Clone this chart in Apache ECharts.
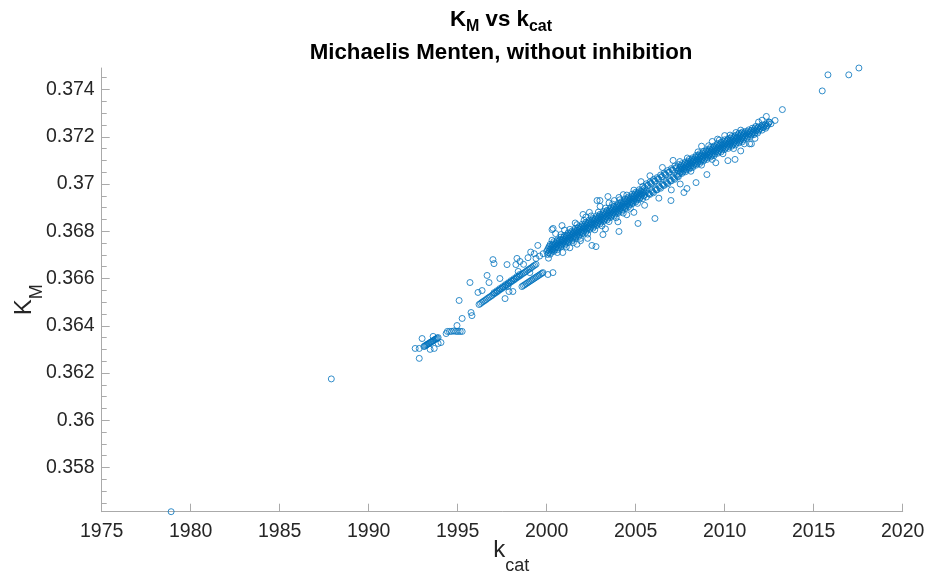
<!DOCTYPE html>
<html>
<head>
<meta charset="utf-8">
<script src="https://cdn.jsdelivr.net/npm/echarts@6/dist/echarts.min.js"></script>
<style>
html,body{margin:0;padding:0;background:#fff;}
#chart{width:927px;height:579px;}
</style>
</head>
<body>
<div id="chart"></div>
<script>
// ---- tick labels ----
const xTicks = [1975, 1980, 1985, 1990, 1995, 2000, 2005, 2010, 2015, 2020];
const yTicks = [0.358, 0.36, 0.362, 0.364, 0.366, 0.368, 0.37, 0.372, 0.374];
const yMinorTicks = [0.3565, 0.357, 0.3575, 0.3585, 0.359, 0.3595, 0.3605, 0.361, 0.3615,
  0.3625, 0.363, 0.3635, 0.3645, 0.365, 0.3655, 0.3665, 0.367, 0.3675, 0.3685, 0.369, 0.3695,
  0.3705, 0.371, 0.3715, 0.3725, 0.373, 0.3735, 0.3745];

// ---- data: [kcat, KM] ----
const outliers = [[1978.9,0.35613],[1987.9,0.36175],[2015.48,0.37394],[2015.80,0.37462],
  [2016.97,0.37462],[2017.54,0.37491],[2013.24,0.37315],[2012.34,0.37286],[2012.83,0.37269]];

const cluster1993 = [[1993.10,0.36312],[1993.15,0.36314],[1993.20,0.36317],[1993.25,0.36319],
  [1993.30,0.36322],[1993.35,0.36324],[1993.40,0.36326],[1993.45,0.36329],[1993.50,0.36331],
  [1993.55,0.36333],[1993.60,0.36336],[1993.65,0.36338],[1993.70,0.36341],[1993.75,0.36343],
  [1993.80,0.36345],[1993.85,0.36348],[1993.90,0.3635],
  [1992.61,0.36304],[1992.84,0.36304],[1992.84,0.36262],[1993.0,0.36346],[1993.45,0.363],
  [1993.68,0.36304],[1993.62,0.36355],[1993.9,0.36325],[1994.06,0.36329]];

const row1995 = [[1994.35,0.36367],[1994.42,0.36376],[1994.54,0.36376],[1994.66,0.36376],
  [1994.78,0.36378],[1994.9,0.36376],[1995.02,0.36376],[1995.14,0.36376],[1995.25,0.36376],
  [1994.96,0.36401]];

const scatter1995 = [[1995.69,0.36583],[1996.14,0.36541],[1996.37,0.36549],[1996.65,0.36613],
  [1996.76,0.36583],[1996.98,0.3668],[1997.04,0.36663],[1997.37,0.366],[1997.66,0.36515],
  [1997.77,0.36659],[1997.82,0.36566],[1997.88,0.36545],[1998.1,0.36545],[1998.33,0.36685],
  [1998.27,0.36659],[1998.5,0.36672],[2000.07,0.36617],[2000.35,0.36625],[1995.08,0.36507],
  [1995.25,0.36431],[1995.75,0.36456],[1995.8,0.36443],[1998.7,0.3666],[1998.95,0.36688],
  [1999.1,0.36712],[1999.3,0.36705],[1999.5,0.3674],[1999.05,0.36625],[1998.4,0.3663]];

const bandA = [[1996.20,0.3649],[1996.28,0.36494],[1996.36,0.36499],[1996.44,0.36503],
  [1996.52,0.36507],[1996.60,0.36511],[1996.68,0.36516],[1996.76,0.3652],[1996.84,0.36524],
  [1996.92,0.36528],[1997.00,0.36533],[1997.08,0.36537],[1997.16,0.36541],[1997.24,0.36545],
  [1997.32,0.3655],[1997.40,0.36554],[1997.48,0.36558],[1997.56,0.36562],[1997.64,0.36567],
  [1997.72,0.36571],[1997.80,0.36575],[1997.88,0.36579],[1997.96,0.36584],[1998.04,0.36588],
  [1998.12,0.36592],[1998.20,0.36596],[1998.28,0.36601],[1998.36,0.36605],[1998.44,0.36609],
  [1998.52,0.36613],[1998.60,0.36618],[1998.68,0.36622],[1998.76,0.36626],[1998.84,0.3663],
  [1998.92,0.36635],[1999.00,0.36639],[1999.08,0.36643],[1999.16,0.36647],[1999.24,0.36652],
  [1999.32,0.36656],[1999.40,0.3666],
  [1997.04,0.3654],[1997.2,0.36548],[1997.36,0.36557],[1997.52,0.36565],[1997.68,0.36574],
  [1997.84,0.36582],[1998.0,0.36591],[1998.16,0.36599],[1998.32,0.36608],[1998.48,0.36617]];

const bandB = [[1998.61,0.36566],[1998.69,0.3657],[1998.77,0.36574],[1998.85,0.36578],
  [1998.93,0.36582],[1999.01,0.36586],[1999.09,0.3659],[1999.17,0.36594],[1999.25,0.36598],
  [1999.33,0.36602],[1999.41,0.36606],[1999.49,0.3661],[1999.57,0.36614],[1999.65,0.36618],
  [1999.73,0.36622],[1999.79,0.36625]];

const cloudCenter = [[1999.4,0.36685],[1999.6,0.36695],[1999.8,0.36705],
  [2000.0,0.36715],[2000.2,0.36724],[2000.4,0.36734],[2000.6,0.36743],[2000.8,0.36753],
  [2001.0,0.36762],[2001.2,0.36771],[2001.4,0.3678],[2001.6,0.3679],[2001.8,0.36799],
  [2002.0,0.36808],[2002.2,0.36817],[2002.4,0.36826],[2002.6,0.36834],[2002.8,0.36843],
  [2003.0,0.36852],[2003.2,0.36861],[2003.4,0.36869],[2003.6,0.36878],[2003.8,0.36886],
  [2004.0,0.36895],[2004.2,0.36905],[2004.4,0.36915],[2004.6,0.36925],[2004.8,0.36935],
  [2005.0,0.36945],[2005.2,0.36954],[2005.4,0.36963],[2005.6,0.36972],
  [2007.4,0.37056],[2007.6,0.37064],[2007.8,0.37073],[2008.0,0.37082],[2008.2,0.37091],
  [2008.4,0.37099],[2008.6,0.37108],[2008.8,0.37116],[2009.0,0.37125],[2009.2,0.37133],
  [2009.4,0.37141],[2009.6,0.37149],[2009.8,0.37157],[2010.0,0.37165],[2010.2,0.37172],
  [2010.4,0.37179],[2010.6,0.37186],[2010.8,0.37193],[2011.0,0.372],[2011.2,0.37207],
  [2011.4,0.37214],[2011.6,0.37222],[2011.8,0.37229],[2012.0,0.37236],[2012.2,0.37242],
  [2012.4,0.37248],[2012.6,0.37255]];

const cloudUpperA = [[2000.05,0.36722],[2000.25,0.36731],[2000.45,0.36741],[2000.65,0.3675],
  [2000.85,0.3676],[2001.05,0.36769],[2001.25,0.36778],[2001.45,0.36787],[2001.65,0.36797],
  [2001.85,0.36806],[2002.05,0.36815],[2002.25,0.36824],[2002.45,0.36833],[2002.65,0.36841],
  [2002.85,0.3685],[2003.05,0.36859],[2003.25,0.36868],[2003.45,0.36876],[2003.65,0.36885],
  [2003.85,0.36893],[2004.05,0.36902],[2004.25,0.36912],[2004.45,0.36922],[2004.65,0.36932],
  [2004.85,0.36942],[2005.05,0.36952],[2005.25,0.36961],[2005.45,0.3697],[2005.65,0.36994],
  [2005.85,0.37003],[2006.05,0.37012],[2006.25,0.37022],[2006.45,0.37031],[2006.65,0.37041],
  [2006.85,0.3705],[2007.05,0.3706],[2007.25,0.37069],[2007.45,0.37063],[2007.65,0.37071],
  [2007.85,0.3708],[2008.05,0.37089],[2008.25,0.37098],[2008.45,0.37106],[2008.65,0.37115],
  [2008.85,0.37123],[2009.05,0.37132],[2009.25,0.3714],[2009.45,0.37148],[2009.65,0.37156],
  [2009.85,0.37164],[2010.05,0.37172],[2010.25,0.37179],[2010.45,0.37186],[2010.65,0.37193],
  [2010.85,0.372],[2011.05,0.37207],[2011.25,0.37214],[2011.45,0.37221],[2011.65,0.37229],
  [2011.85,0.37236],[2012.05,0.37243],[2012.25,0.37249],[2012.45,0.37255]];

const cloudLowerA = [[2000.15,0.36717],[2000.35,0.36726],[2000.55,0.36736],[2000.75,0.36745],
  [2000.95,0.36755],[2001.15,0.36764],[2001.35,0.36773],[2001.55,0.36782],[2001.75,0.36792],
  [2001.95,0.36801],[2002.15,0.3681],[2002.35,0.36819],[2002.55,0.36828],[2002.75,0.36836],
  [2002.95,0.36845],[2003.15,0.36854],[2003.35,0.36863],[2003.55,0.36871],[2003.75,0.3688],
  [2003.95,0.36888],[2004.15,0.36897],[2004.35,0.36907],[2004.55,0.36917],[2004.75,0.36927],
  [2004.95,0.36937],[2005.15,0.36947],[2005.35,0.36956],[2005.55,0.36965],[2005.75,0.36958],
  [2005.95,0.36967],[2006.15,0.36976],[2006.35,0.36986],[2006.55,0.36995],[2006.75,0.37005],
  [2006.95,0.37014],[2007.15,0.37024],[2007.35,0.37033],[2007.55,0.37058],[2007.75,0.37066],
  [2007.95,0.37075],[2008.15,0.37084],[2008.35,0.37093],[2008.55,0.37101],[2008.75,0.3711],
  [2008.95,0.37118],[2009.15,0.37127],[2009.35,0.37135],[2009.55,0.37143],[2009.75,0.37151],
  [2009.95,0.37159],[2010.15,0.37167],[2010.35,0.37174],[2010.55,0.37181],[2010.75,0.37188],
  [2010.95,0.37195],[2011.15,0.37202],[2011.35,0.37209],[2011.55,0.37216],[2011.75,0.37224],
  [2011.95,0.37231],[2012.15,0.37238],[2012.35,0.37244]];

const cloudUpper1 = [[2000.1,0.3673],[2000.3,0.36741],[2000.5,0.36748],[2000.7,0.36759],
  [2000.9,0.36767],[2001.1,0.36778],[2001.3,0.36785],[2001.5,0.36796],[2001.7,0.36804],
  [2001.9,0.36815],[2002.1,0.36822],[2002.3,0.36833],[2002.5,0.36839],[2002.7,0.3685],
  [2002.9,0.36857],[2003.1,0.36868],[2003.3,0.36874],[2003.5,0.36885],[2003.7,0.36891],
  [2003.9,0.36902],[2004.1,0.36909],[2004.3,0.36921],[2004.5,0.36929],[2004.7,0.36941],
  [2004.9,0.36949],[2005.1,0.36961],[2005.3,0.36968],[2005.5,0.36984],[2005.7,0.36994],
  [2005.9,0.37002],[2006.1,0.37012],[2006.3,0.3702],[2006.5,0.37031],[2006.7,0.37039],
  [2006.9,0.3705],[2007.1,0.37058],[2007.3,0.37068],[2007.5,0.37071],[2007.7,0.3708],
  [2007.9,0.37087],[2008.1,0.37098],[2008.3,0.37104],[2008.5,0.37115],[2008.7,0.37121],
  [2008.9,0.37132],[2009.1,0.37138],[2009.3,0.37148],[2009.5,0.37154],[2009.7,0.37164],
  [2009.9,0.3717],[2010.1,0.3718],[2010.3,0.37185],[2010.5,0.37194],[2010.7,0.37199],
  [2010.9,0.37208],[2011.1,0.37213],[2011.3,0.37222],[2011.5,0.37227],[2011.7,0.37237],
  [2011.9,0.37242],[2012.1,0.3725],[2012.3,0.37254],[2012.5,0.37262]];

const cloudLower1 = [[2000.1,0.36709],[2000.3,0.3672],[2000.5,0.36728],[2000.7,0.36739],
  [2000.9,0.36747],[2001.1,0.36758],[2001.3,0.36765],[2001.5,0.36776],[2001.7,0.36784],
  [2001.9,0.36795],[2002.1,0.36802],[2002.3,0.36813],[2002.5,0.36819],[2002.7,0.3683],
  [2002.9,0.36837],[2003.1,0.36848],[2003.3,0.36854],[2003.5,0.36865],[2003.7,0.36871],
  [2003.9,0.36882],[2004.1,0.36889],[2004.3,0.36901],[2004.5,0.36909],[2004.7,0.36921],
  [2004.9,0.36929],[2005.1,0.36941],[2005.3,0.36948],[2005.5,0.36954],[2005.7,0.36962],
  [2005.9,0.36972],[2006.1,0.3698],[2006.3,0.36991],[2006.5,0.36999],[2006.7,0.3701],
  [2006.9,0.37018],[2007.1,0.37029],[2007.3,0.37037],[2007.5,0.37049],[2007.7,0.37058],
  [2007.9,0.37069],[2008.1,0.37076],[2008.3,0.37086],[2008.5,0.37093],[2008.7,0.37103],
  [2008.9,0.3711],[2009.1,0.3712],[2009.3,0.37126],[2009.5,0.37136],[2009.7,0.37142],
  [2009.9,0.37152],[2010.1,0.37158],[2010.3,0.37167],[2010.5,0.37172],[2010.7,0.37181],
  [2010.9,0.37186],[2011.1,0.37195],[2011.3,0.372],[2011.5,0.37209],[2011.7,0.37215],
  [2011.9,0.37224],[2012.1,0.37228],[2012.3,0.37236]];

const cloudUpperB = [[2000.15,0.36737],[2000.35,0.36746],[2000.55,0.36756],[2000.75,0.36765],
  [2000.95,0.36775],[2001.15,0.36784],[2001.35,0.36793],[2001.55,0.36802],[2001.75,0.36812],
  [2001.95,0.36821],[2002.15,0.3683],[2002.35,0.36839],[2002.55,0.36848],[2002.75,0.36856],
  [2002.95,0.36865],[2003.15,0.36874],[2003.35,0.36883],[2003.55,0.36891],[2003.75,0.369],
  [2003.95,0.36908],[2004.15,0.36917],[2004.35,0.36927],[2004.55,0.36937],[2004.75,0.36947],
  [2004.95,0.36957],[2005.15,0.36967],[2005.35,0.36976],
  [2007.55,0.37078],[2007.75,0.37086],[2007.95,0.37095],[2008.15,0.37104],[2008.35,0.37113],
  [2008.55,0.37121],[2008.75,0.3713],[2008.95,0.37138],[2009.15,0.37147],[2009.35,0.37155],
  [2009.55,0.37163],[2009.75,0.37171],[2009.95,0.37179],[2010.15,0.37187],[2010.35,0.37194],
  [2010.55,0.37201],[2010.75,0.37208],[2010.95,0.37215],[2011.15,0.37222],[2011.35,0.37229],
  [2011.55,0.37236],[2011.75,0.37244]];

const cloudLowerB = [[2000.05,0.36702],[2000.25,0.36711],[2000.45,0.36721],[2000.65,0.3673],
  [2000.85,0.3674],[2001.05,0.36749],[2001.25,0.36758],[2001.45,0.36767],[2001.65,0.36777],
  [2001.85,0.36786],[2002.05,0.36795],[2002.25,0.36804],[2002.45,0.36813],[2002.65,0.36821],
  [2002.85,0.3683],[2003.05,0.36839],[2003.25,0.36848],[2003.45,0.36856],[2003.65,0.36865],
  [2003.85,0.36873],[2004.05,0.36882],[2004.25,0.36892],[2004.45,0.36902],[2004.65,0.36912],
  [2004.85,0.36922],[2005.05,0.36932],[2005.25,0.36941],[2005.45,0.3695],
  [2007.45,0.37043],[2007.65,0.37051],[2007.85,0.3706],[2008.05,0.37069],[2008.25,0.37078],
  [2008.45,0.37086],[2008.65,0.37095],[2008.85,0.37103],[2009.05,0.37112],[2009.25,0.3712],
  [2009.45,0.37128],[2009.65,0.37136],[2009.85,0.37144],[2010.05,0.37152],[2010.25,0.37159],
  [2010.45,0.37166],[2010.65,0.37173],[2010.85,0.3718],[2011.05,0.37187],[2011.25,0.37194],
  [2011.45,0.37201],[2011.65,0.37209],[2011.85,0.37216]];

const cloudUpper2 = [[2000.2,0.36745],[2000.4,0.36756],[2000.6,0.36763],[2000.8,0.36775],
  [2001.0,0.36782],[2001.2,0.36793],[2001.4,0.368],[2001.6,0.36812],[2001.8,0.36819],
  [2002.0,0.3683],[2002.2,0.36837],[2002.4,0.36848],[2002.6,0.36854],[2002.8,0.36865],
  [2003.0,0.36872],[2003.2,0.36883],[2003.4,0.36889],[2003.6,0.369],[2003.8,0.36906],
  [2004.0,0.36917],[2004.2,0.36925],[2004.4,0.36937],[2004.6,0.36945],[2004.8,0.36957],
  [2005.0,0.36965],[2005.2,0.36976],[2005.4,0.3699],[2005.6,0.37001],[2005.8,0.37008],
  [2006.0,0.37019],[2006.2,0.37027],[2006.4,0.37038],[2006.6,0.37046],[2006.8,0.37057],
  [2007.0,0.37065],[2007.2,0.37076],[2007.4,0.37082],[2007.6,0.37086],[2007.8,0.37093],
  [2008.0,0.37104],[2008.2,0.37111],[2008.4,0.37121],[2008.6,0.37128],[2008.8,0.37138],
  [2009.0,0.37145],[2009.2,0.37155],[2009.4,0.37161],[2009.6,0.37171],[2009.8,0.37177],
  [2010.0,0.37187],[2010.2,0.37192],[2010.4,0.37201],[2010.6,0.37206],[2010.8,0.37215],
  [2011.0,0.3722]];

const cloudLower2 = [[2000.2,0.36703],[2000.4,0.36715],[2000.6,0.36722],[2000.8,0.36734],
  [2001.0,0.36741],[2001.2,0.36752],[2001.4,0.36759],[2001.6,0.36771],[2001.8,0.36778],
  [2002.0,0.36789],[2002.2,0.36796],[2002.4,0.36807],[2002.6,0.36813],[2002.8,0.36824],
  [2003.0,0.36831],[2003.2,0.36842],[2003.4,0.36848],[2003.6,0.36859],[2003.8,0.36865],
  [2004.0,0.36876],[2004.2,0.36884],[2004.4,0.36896],[2004.6,0.36904],[2004.8,0.36916],
  [2005.0,0.36924],[2005.2,0.36935],[2005.4,0.36938],[2005.6,0.36945],[2005.8,0.36956],
  [2006.0,0.36963],[2006.2,0.36975],[2006.4,0.36982],[2006.6,0.36994],[2006.8,0.37001],
  [2007.0,0.37013],[2007.2,0.3702],[2007.4,0.37031],[2007.6,0.37045],[2007.8,0.37052],
  [2008.0,0.37063],[2008.2,0.3707],[2008.4,0.3708],[2008.6,0.37087],[2008.8,0.37097],
  [2009.0,0.37104],[2009.2,0.37114],[2009.4,0.3712],[2009.6,0.3713],[2009.8,0.37136],
  [2010.0,0.37146],[2010.2,0.37151],[2010.4,0.3716],[2010.6,0.37165],[2010.8,0.37174],
  [2011.0,0.37179]];

const cloudOuter = [[2000.3,0.36762],[2000.8,0.36786],[2001.3,0.36808],[2001.7,0.36828],
  [2002.1,0.36846],[2002.5,0.36865],[2002.9,0.36881],[2003.3,0.36898],[2003.7,0.36915],
  [2004.1,0.36933],[2004.5,0.36953],[2004.9,0.36974],[2007.9,0.3711],[2008.5,0.37136],
  [2009.1,0.37162],[2009.7,0.37186],[2010.3,0.37207],[2010.9,0.37228],
  [2000.1,0.36686],[2000.6,0.3671],[2001.1,0.36733],[2001.5,0.36752],[2001.9,0.3677],
  [2002.3,0.36788],[2002.7,0.36806],[2003.1,0.36823],[2003.5,0.36841],[2003.9,0.36857],
  [2004.3,0.36877],[2004.7,0.36897],[2005.1,0.36918],[2008.1,0.37054],[2008.7,0.3708],
  [2009.3,0.37104],[2009.9,0.37128],[2010.5,0.3715],[2011.1,0.3717],[2011.7,0.37193]];

const cloudScatter = [[2000.86,0.36824],[2002.54,0.3674],[2002.77,0.36735],[2003.16,0.36786],
  [2004.06,0.36799],[2005.13,0.36833],[2006.08,0.36854],[2006.98,0.3693],[2007.71,0.36964],
  [2007.88,0.36981],[2008.39,0.37006],[2009.0,0.3704],[2000.3,0.36807],[2000.36,0.36812],
  [2002.04,0.36871],[2002.83,0.3693],[2002.99,0.3693],[2003.44,0.36947],[2004.06,0.36943],
  [2007.48,0.37095],[2008.21,0.37095],[2010.63,0.37218],[2010.18,0.37099],[2010.58,0.37104],
  [2012.5,0.37262],[2012.1,0.3727],[2011.9,0.37262],[2001.3,0.3673],[2001.9,0.3676],
  [2003.8,0.3693],[2004.5,0.3687],[2009.6,0.3719],[2011.4,0.3717],
  [2000.5,0.3679],[2001.0,0.36805],[2001.6,0.36835],[2002.2,0.3686],[2002.4,0.3688],
  [2003.0,0.36905],[2003.5,0.3692],[2004.3,0.36955],[2005.3,0.3701],[2005.8,0.37035],
  [2006.5,0.3707],[2007.1,0.371],[2008.7,0.3716],[2009.3,0.3718],[2010.0,0.37205],
  [2000.9,0.3671],[2001.7,0.36745],[2002.3,0.3677],[2003.3,0.3681],[2004.0,0.3684],
  [2004.9,0.3688],[2005.5,0.3691],[2006.3,0.3694],[2007.0,0.36975],[2007.5,0.37],
  [2009.5,0.3709],[2010.9,0.3714],[2011.5,0.3717]];

const groups = [outliers, cluster1993, row1995, scatter1995, bandA, bandB, cloudCenter,
  cloudUpperA, cloudLowerA, cloudUpper1, cloudLower1, cloudUpperB, cloudLowerB,
  cloudUpper2, cloudLower2, cloudOuter, cloudScatter];

// ---- chart ----
const FONT = '"Liberation Sans", Arial, Helvetica, sans-serif';
const allPts = [].concat(...groups);
const yMin = Math.min(...allPts.map(p => p[1]));
const yMax = Math.max(...allPts.map(p => p[1]));
const axisGray = '#aaaaaa';
const labelColor = '#262626';

const chart = echarts.init(document.getElementById('chart'), null, {renderer: 'canvas'});
chart.setOption({
  animation: false,
  backgroundColor: '#ffffff',
  title: [
    {
      text: '{a|K}{s|M}{a| vs k}{s|cat}',
      left: 501, top: 5, textAlign: 'center', padding: 0,
      textStyle: {
        rich: {
          a: {fontFamily: FONT, fontSize: 22.3, fontWeight: 'bold', color: '#000', lineHeight: 26},
          s: {fontFamily: FONT, fontSize: 16, fontWeight: 'bold', color: '#000', padding: [14, 0, 0, 0]}
        }
      }
    },
    {
      text: 'Michaelis Menten, without inhibition',
      left: 501, top: 42, textAlign: 'center', padding: 0,
      textStyle: {fontFamily: FONT, fontSize: 22.3, fontWeight: 'bold', color: '#000'}
    }
  ],
  grid: {left: 101.7, right: 24.3, top: 68, bottom: 67.3, outerBoundsMode: 'none', containLabel: false},
  xAxis: {
    type: 'value', min: xTicks[0], max: xTicks[xTicks.length - 1], interval: xTicks[1] - xTicks[0],
    axisLine: {show: true, lineStyle: {color: axisGray, width: 1}},
    axisTick: {show: true, inside: true, length: 8, lineStyle: {color: axisGray}},
    axisLabel: {color: labelColor, fontFamily: FONT, fontSize: 19.5, margin: 10,
      formatter: v => String(v)},
    splitLine: {show: false},
    name: '{a|k}{s|cat}', nameLocation: 'middle', nameGap: 15, nameMoveOverlap: false,
    nameTextStyle: {
      padding: [0, 0, 0, 18],
      rich: {
        a: {fontFamily: FONT, fontSize: 24, color: labelColor, lineHeight: 28},
        s: {fontFamily: FONT, fontSize: 18, color: labelColor, padding: [30, 0, 0, 0]}
      }
    }
  },
  yAxis: [
    {
      type: 'value', min: yMin, max: yMax,
      axisLine: {show: true, lineStyle: {color: axisGray, width: 1}},
      axisTick: {show: true, inside: true, length: 8, customValues: yTicks, lineStyle: {color: axisGray}},
      axisLabel: {color: labelColor, fontFamily: FONT, fontSize: 19.5, margin: 7, customValues: yTicks,
        formatter: v => String(v)},
      splitLine: {show: false},
      name: '{a|K}{s|M}', nameLocation: 'middle', nameGap: 56, nameRotate: 90, nameMoveOverlap: false,
      nameTextStyle: {
        padding: [0, 20, 0, 0],
        rich: {
          a: {fontFamily: FONT, fontSize: 24, color: labelColor, lineHeight: 28},
          s: {fontFamily: FONT, fontSize: 18, color: labelColor, padding: [24, 0, 0, 0]}
        }
      }
    },
    {
      type: 'value', min: yMin, max: yMax, position: 'left',
      axisLine: {show: false},
      axisTick: {show: true, inside: true, length: 5, customValues: yMinorTicks, lineStyle: {color: axisGray}},
      axisLabel: {show: false},
      splitLine: {show: false}
    }
  ],
  series: groups.map(g => ({
    type: 'scatter',
    data: g,
    symbol: 'circle',
    symbolSize: 6,
    itemStyle: {color: 'rgba(0,0,0,0)', borderColor: '#0072BD', borderWidth: 1},
    emphasis: {disabled: true},
    silent: true
  }))
});
</script>
</body>
</html>
